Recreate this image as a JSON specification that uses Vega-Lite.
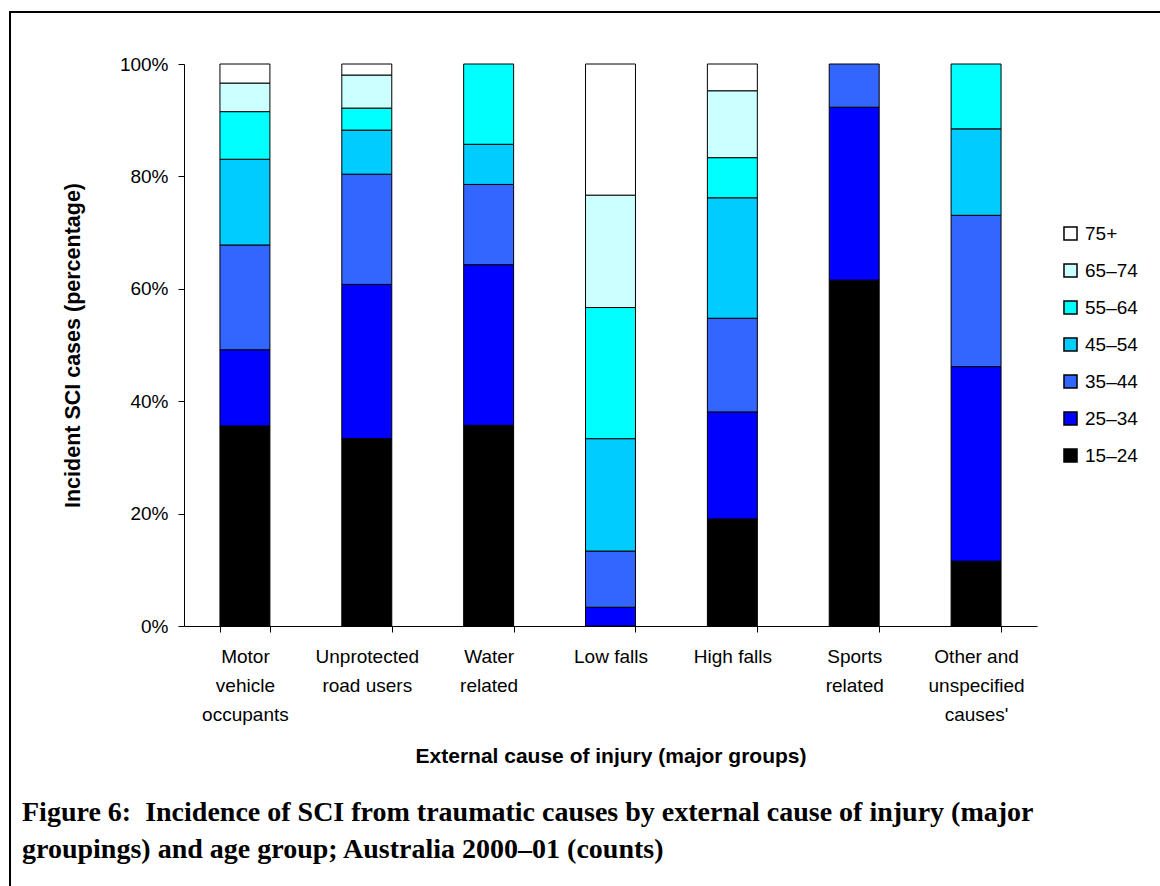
{
  "$schema": "https://vega.github.io/schema/vega-lite/v6.json",
  "width": 1160,
  "height": 880,
  "autosize": {"type": "none"},
  "padding": {"left": 10, "top": 12, "right": 0, "bottom": 0},
  "background": "white",
  "config": {
    "view": {"stroke": "black", "strokeWidth": 2},
    "font": "Liberation Sans"
  },
  "title": {
    "text": ["Figure 6:\u00a0 Incidence of SCI from traumatic causes by external cause of injury (major", "groupings) and age group; Australia 2000–01 (counts)"],
    "orient": "bottom",
    "anchor": "start",
    "frame": "group",
    "offset": -93,
    "dx": 12,
    "font": "Liberation Serif",
    "fontSize": 28,
    "fontWeight": "bold",
    "lineHeight": 37,
    "color": "black",
    "baseline": "top"
  },
  "data": {
    "values": [
      {"cause": "Motor vehicle occupants", "age": "15–24", "ord": 1, "n": 21},
      {"cause": "Motor vehicle occupants", "age": "25–34", "ord": 2, "n": 8},
      {"cause": "Motor vehicle occupants", "age": "35–44", "ord": 3, "n": 11},
      {"cause": "Motor vehicle occupants", "age": "45–54", "ord": 4, "n": 9},
      {"cause": "Motor vehicle occupants", "age": "55–64", "ord": 5, "n": 5},
      {"cause": "Motor vehicle occupants", "age": "65–74", "ord": 6, "n": 3},
      {"cause": "Motor vehicle occupants", "age": "75+", "ord": 7, "n": 2},
      {"cause": "Unprotected road users", "age": "15–24", "ord": 1, "n": 17},
      {"cause": "Unprotected road users", "age": "25–34", "ord": 2, "n": 14},
      {"cause": "Unprotected road users", "age": "35–44", "ord": 3, "n": 10},
      {"cause": "Unprotected road users", "age": "45–54", "ord": 4, "n": 4},
      {"cause": "Unprotected road users", "age": "55–64", "ord": 5, "n": 2},
      {"cause": "Unprotected road users", "age": "65–74", "ord": 6, "n": 3},
      {"cause": "Unprotected road users", "age": "75+", "ord": 7, "n": 1},
      {"cause": "Water related", "age": "15–24", "ord": 1, "n": 5},
      {"cause": "Water related", "age": "25–34", "ord": 2, "n": 4},
      {"cause": "Water related", "age": "35–44", "ord": 3, "n": 2},
      {"cause": "Water related", "age": "45–54", "ord": 4, "n": 1},
      {"cause": "Water related", "age": "55–64", "ord": 5, "n": 2},
      {"cause": "Low falls", "age": "25–34", "ord": 2, "n": 1},
      {"cause": "Low falls", "age": "35–44", "ord": 3, "n": 3},
      {"cause": "Low falls", "age": "45–54", "ord": 4, "n": 6},
      {"cause": "Low falls", "age": "55–64", "ord": 5, "n": 7},
      {"cause": "Low falls", "age": "65–74", "ord": 6, "n": 6},
      {"cause": "Low falls", "age": "75+", "ord": 7, "n": 7},
      {"cause": "High falls", "age": "15–24", "ord": 1, "n": 8},
      {"cause": "High falls", "age": "25–34", "ord": 2, "n": 8},
      {"cause": "High falls", "age": "35–44", "ord": 3, "n": 7},
      {"cause": "High falls", "age": "45–54", "ord": 4, "n": 9},
      {"cause": "High falls", "age": "55–64", "ord": 5, "n": 3},
      {"cause": "High falls", "age": "65–74", "ord": 6, "n": 5},
      {"cause": "High falls", "age": "75+", "ord": 7, "n": 2},
      {"cause": "Sports related", "age": "15–24", "ord": 1, "n": 8},
      {"cause": "Sports related", "age": "25–34", "ord": 2, "n": 4},
      {"cause": "Sports related", "age": "35–44", "ord": 3, "n": 1},
      {"cause": "Other and unspecified causes'", "age": "15–24", "ord": 1, "n": 3},
      {"cause": "Other and unspecified causes'", "age": "25–34", "ord": 2, "n": 9},
      {"cause": "Other and unspecified causes'", "age": "35–44", "ord": 3, "n": 7},
      {"cause": "Other and unspecified causes'", "age": "45–54", "ord": 4, "n": 4},
      {"cause": "Other and unspecified causes'", "age": "55–64", "ord": 5, "n": 3}
    ]
  },
  "mark": {"type": "bar", "stroke": "black", "strokeWidth": 1},
  "encoding": {
    "x": {
      "field": "cause",
      "type": "nominal",
      "sort": ["Motor vehicle occupants", "Unprotected road users", "Water related", "Low falls", "High falls", "Sports related", "Other and unspecified causes'"],
      "scale": {"range": [174, 1027], "paddingInner": 0.59, "paddingOuter": 0.295},
      "axis": {
        "orient": "bottom",
        "offset": -266,
        "tickBand": "extent",
        "labelAngle": 0,
        "labelFont": "Liberation Sans",
        "labelFontSize": 19,
        "labelLineHeight": 29,
        "labelPadding": 15,
        "labelLimit": 400,
        "labelColor": "black",
        "labelExpr": "datum.value == 'Motor vehicle occupants' ? ['Motor', 'vehicle', 'occupants'] : datum.value == 'Unprotected road users' ? ['Unprotected', 'road users'] : datum.value == 'Water related' ? ['Water', 'related'] : datum.value == 'Sports related' ? ['Sports', 'related'] : datum.value == \"Other and unspecified causes'\" ? ['Other and', 'unspecified', \"causes'\"] : datum.label",
        "tickSize": 6,
        "tickColor": "black",
        "domainColor": "black",
        "title": "External cause of injury (major groups)",
        "titleFont": "Liberation Sans",
        "titleFontSize": 21,
        "titleFontWeight": "bold",
        "titleColor": "black",
        "titlePadding": 21
      }
    },
    "y": {
      "field": "n",
      "type": "quantitative",
      "stack": "normalize",
      "scale": {"domain": [0, 1], "range": [614, 52]},
      "axis": {
        "orient": "left",
        "offset": -174,
        "values": [0, 0.2, 0.4, 0.6, 0.8, 1],
        "format": ".0%",
        "grid": false,
        "labelFont": "Liberation Sans",
        "labelFontSize": 19,
        "labelColor": "black",
        "labelPadding": 10,
        "tickSize": 6,
        "tickColor": "black",
        "domainColor": "black",
        "title": "Incident SCI cases (percentage)",
        "titleFont": "Liberation Sans",
        "titleFontSize": 21.5,
        "titleFontWeight": "bold",
        "titleColor": "black",
        "titlePadding": 35
      }
    },
    "color": {
      "field": "age",
      "type": "nominal",
      "scale": {
        "domain": ["75+", "65–74", "55–64", "45–54", "35–44", "25–34", "15–24"],
        "range": ["#FFFFFF", "#CCFFFF", "#00FFFF", "#00CCFF", "#3366FF", "#0000FF", "#000000"]
      },
      "legend": {
        "title": null,
        "orient": "none",
        "legendX": 1051,
        "legendY": 212,
        "padding": 0,
        "symbolType": "square",
        "symbolSize": 170,
        "symbolStrokeColor": "black",
        "symbolStrokeWidth": 1.5,
        "symbolOpacity": 1,
        "labelFont": "Liberation Sans",
        "labelFontSize": 19,
        "labelColor": "black",
        "labelOffset": 5,
        "rowPadding": 16
      }
    },
    "order": {"field": "ord", "type": "quantitative"}
  }
}
